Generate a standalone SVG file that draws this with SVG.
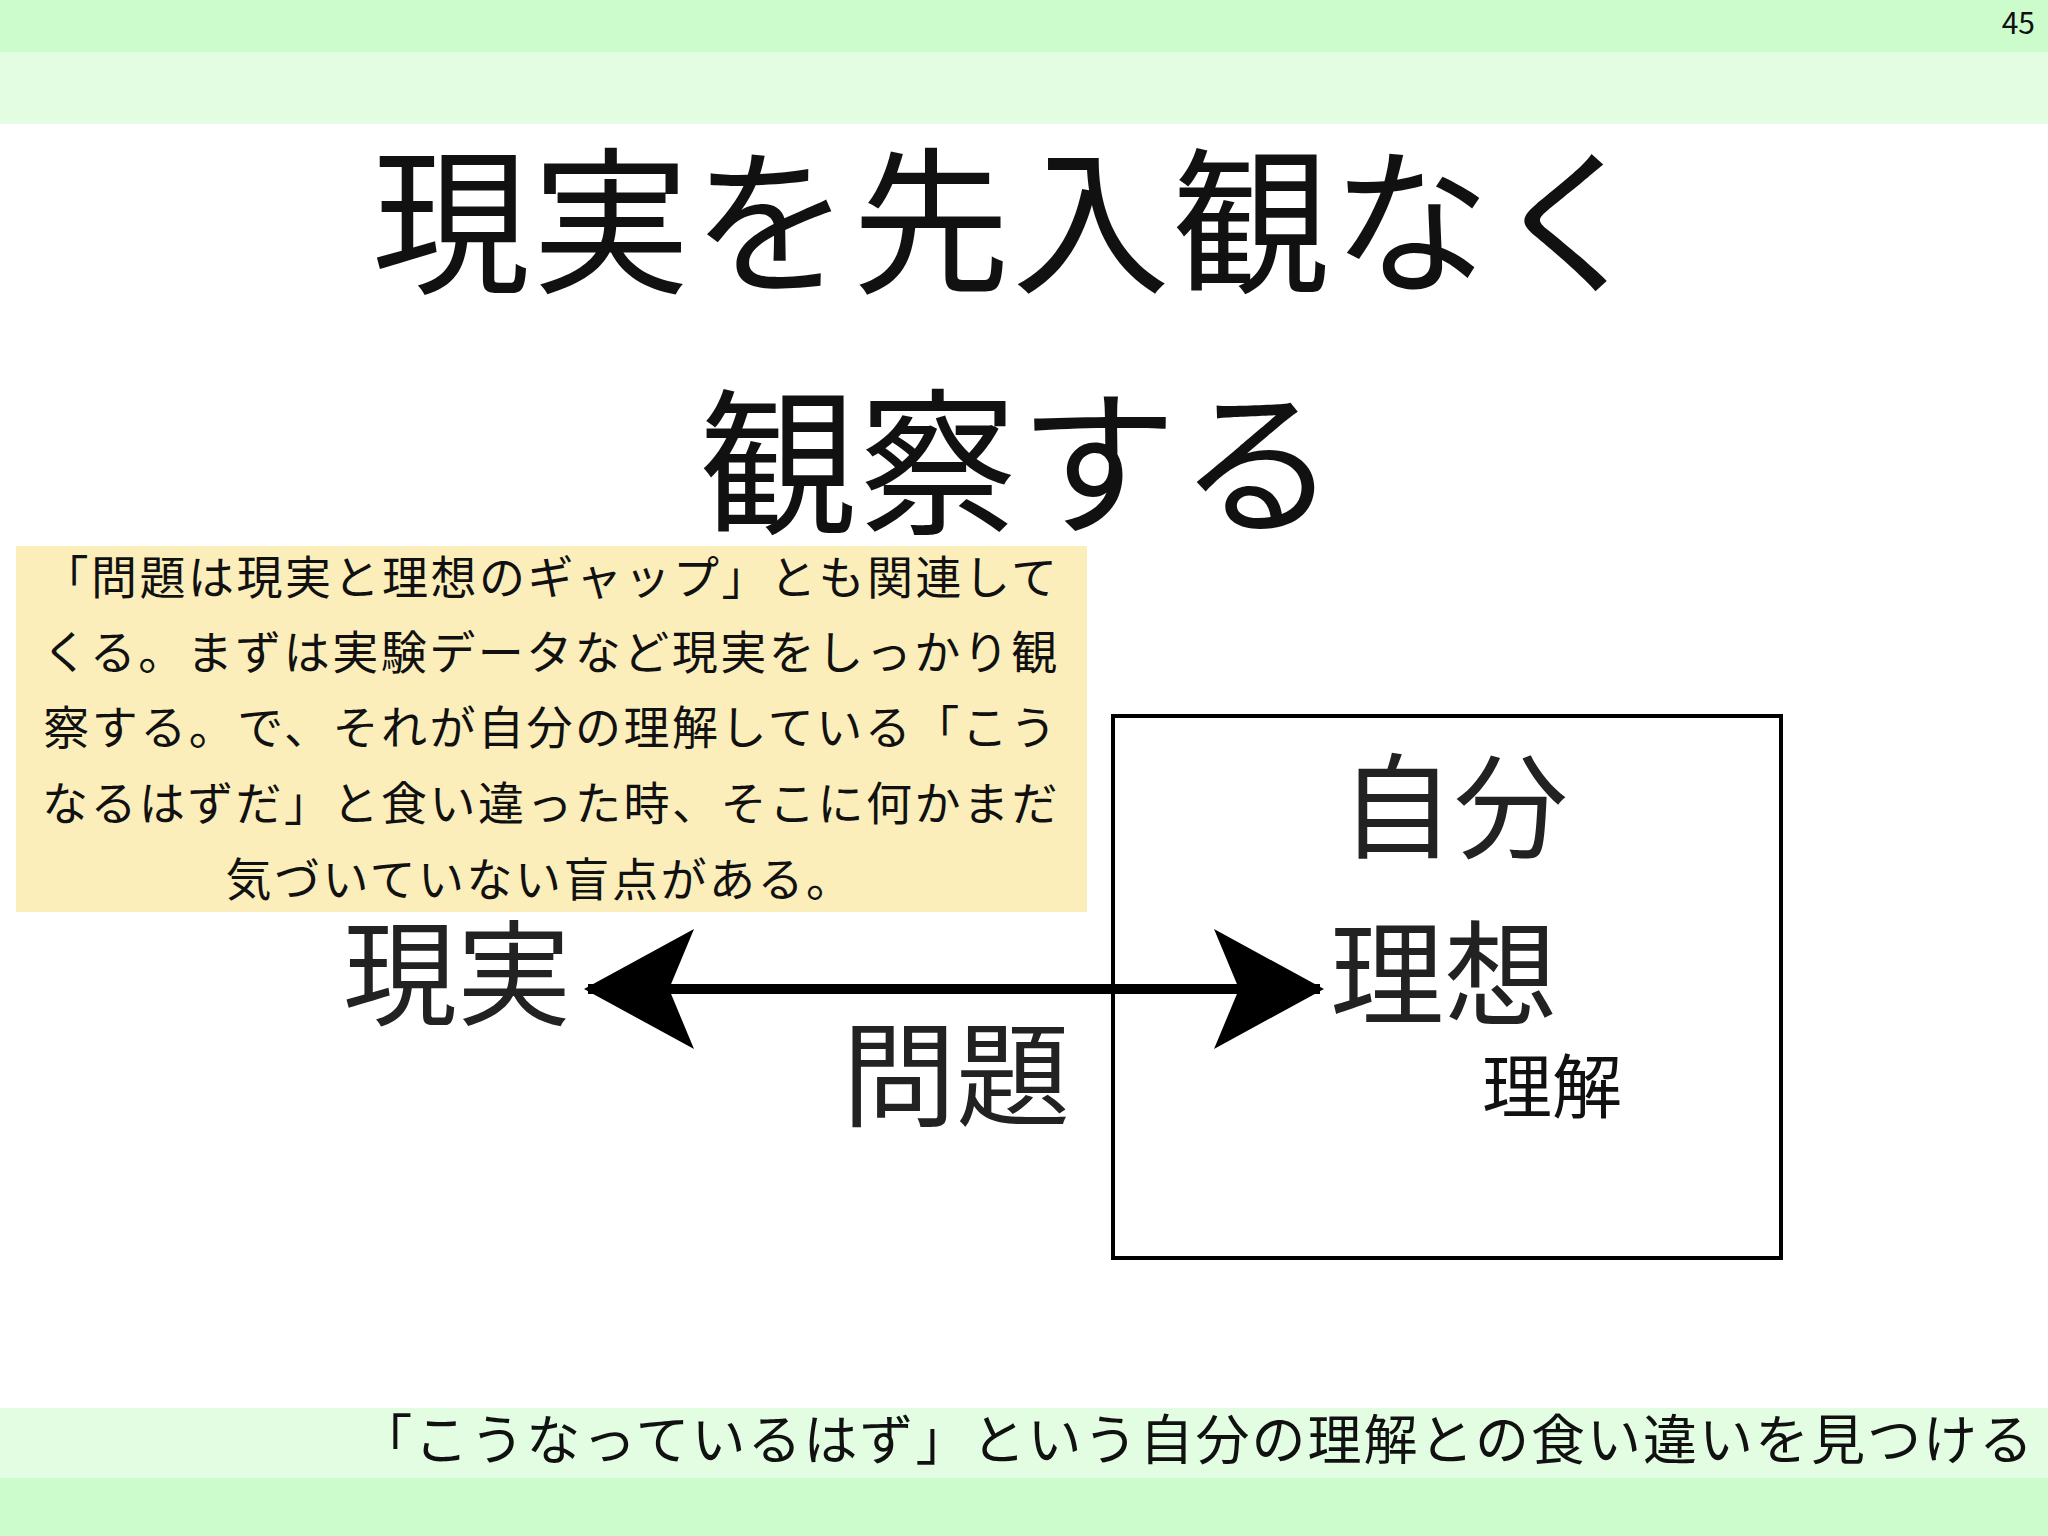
<svg xmlns="http://www.w3.org/2000/svg" width="2048" height="1536" viewBox="0 0 2048 1536">
<style>
text{font-family:"Noto Sans CJK JP","Noto Sans",sans-serif;fill:#111}
.big{font-size:114px;fill:#222}
.note{font-size:46px;letter-spacing:2.5px;text-anchor:middle}
</style>
<defs>
<marker id="ah" viewBox="0 0 110 120" refX="106" refY="60" markerWidth="110" markerHeight="120" markerUnits="userSpaceOnUse" orient="auto-start-reverse">
<path d="M0,0 L110,60 L0,120 L25,60 Z" fill="#000"/>
</marker>
</defs>
<rect width="2048" height="1536" fill="#fff"/>
<rect width="2048" height="52" fill="#ccfccc"/>
<rect y="52" width="2048" height="72" fill="#e2fde2"/>
<text x="2035" y="34" font-size="30" text-anchor="end" fill="#444">45</text>
<text x="1012" y="281" font-size="158" text-anchor="middle" letter-spacing="2">現実を先入観なく</text>
<text x="1019" y="522" font-size="158" text-anchor="middle" letter-spacing="2">観察する</text>
<g id="box"><rect x="1113" y="716" width="668" height="542" fill="none" stroke="#000" stroke-width="4"/></g>
<g id="connectors"><line x1="588" y1="989" x2="1320" y2="989" stroke="#000" stroke-width="10" marker-start="url(#ah)" marker-end="url(#ah)"/></g>
<g id="genjitsu"><text class="big" x="343" y="1016">現実</text></g>
<g id="mondai"><text class="big" x="842" y="1117">問題</text></g>
<g id="jibun"><text class="big" x="1340" y="849">自分</text></g>
<g id="risou"><text class="big" x="1330" y="1016">理想</text></g>
<g id="rikai"><text x="1482" y="1113" font-size="70">理解</text></g>
<g id="note">
<rect x="16" y="546" width="1071" height="366" fill="#fbeebb"/>
<text class="note" x="551" y="594">「問題は現実と理想のギャップ」とも関連して</text>
<text class="note" x="551" y="669">くる。まずは実験データなど現実をしっかり観</text>
<text class="note" x="551" y="744">察する。で、それが自分の理解している「こう</text>
<text class="note" x="551" y="820">なるはずだ」と食い違った時、そこに何かまだ</text>
<text class="note" x="540" y="896">気づいていない盲点がある。</text>
</g>
<rect y="1408" width="2048" height="70" fill="#e2fde2"/>
<rect y="1478" width="2048" height="58" fill="#ccfccc"/>
<text x="2035" y="1460" font-size="54" letter-spacing="2" text-anchor="end">「こうなっているはず」という自分の理解との食い違いを見つける</text>
</svg>
